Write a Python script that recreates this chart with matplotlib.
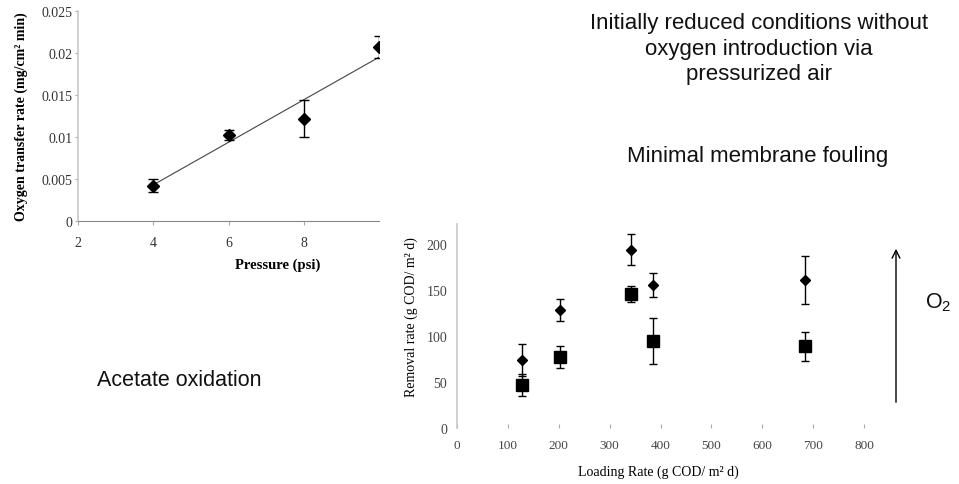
import matplotlib
matplotlib.use("Agg")
import matplotlib.pyplot as plt
import numpy as np

plt.rcParams["mathtext.fontset"] = "custom"
plt.rcParams["mathtext.rm"] = "Liberation Sans"
plt.rcParams["mathtext.it"] = "Liberation Sans:italic"

# Oxygen transfer vs pressure
pressure = [4, 6, 8, 10]
otr = [0.0042, 0.0102, 0.0122, 0.0207]
otr_err = [0.0008, 0.0006, 0.0022, 0.0013]
trend_x = [4, 10]
trend_y = [0.0043, 0.0195]
p_ticks = [2, 4, 6, 8]
otr_ticks = [0, 0.005, 0.01, 0.015, 0.02, 0.025]
otr_ticklabels = ["0", "0.005", "0.01", "0.015", "0.02", "0.025"]

# Removal rate vs loading rate
load_diam = [127, 202, 342, 386, 684]
rem_diam = [74, 128, 194, 156, 161]
err_diam = [17, 12, 17, 13, 26]
load_sq = [127, 202, 342, 386, 684]
rem_sq = [47, 77, 146, 95, 89]
err_sq = [12, 12, 9, 25, 16]
load_ticks = [0, 100, 200, 300, 400, 500, 600, 700, 800]
rem_ticks = [0, 50, 100, 150, 200]

W, H = 959, 485
fig = plt.figure(figsize=(W / 100, H / 100), dpi=100)

serif = ["Liberation Serif", "DejaVu Serif"]
sans = ["Liberation Sans", "DejaVu Sans"]


def box(x0, x1, ytop, ybot):
    return [x0 / W, 1 - ybot / H, (x1 - x0) / W, (ybot - ytop) / H]


# ---- left panel ----
ax1 = fig.add_axes(box(78, 379, 12, 222))
ax1.plot(trend_x, trend_y, color="#444444", lw=0.8)
ax1.errorbar(pressure, otr, yerr=otr_err, fmt="D", color="black", ms=6,
             ecolor="black", elinewidth=1.0, capsize=3.5, capthick=1.0)
ax1.set_xlim(2, 10)
ax1.set_ylim(0, 0.025)
ax1.set_xticks(p_ticks)
ax1.set_xticklabels([str(t) for t in p_ticks], fontfamily=serif, fontsize=10,
                    color="#333333")
ax1.set_yticks(otr_ticks)
ax1.set_yticklabels(otr_ticklabels, fontfamily=serif, fontsize=10,
                    color="#333333")
for s in ["top", "right"]:
    ax1.spines[s].set_visible(False)
ax1.spines["left"].set_color("#c8c8c8")
ax1.spines["left"].set_linewidth(1.2)
ax1.spines["bottom"].set_color("#888888")
ax1.tick_params(axis="x", length=3, color="#aaaaaa", pad=8)
ax1.tick_params(axis="y", length=2, color="#aaaaaa", pad=2)
ax1.set_ylabel("Oxygen transfer rate (mg/cm² min)", fontfamily=serif,
               fontsize=10, fontweight="bold")
ax1.yaxis.set_label_coords(-0.165, 0.5)
ax1.set_xlabel("Pressure (psi)", fontfamily=serif, fontsize=10.5,
               fontweight="bold")
ax1.xaxis.label.set_va("center")
ax1.xaxis.set_label_coords(0.665, -0.205)

# ---- right panel ----
ax2 = fig.add_axes(box(457, 864, 225, 429))
ax2.errorbar(load_diam, rem_diam, yerr=err_diam, fmt="D", color="black",
             ms=5, ecolor="black", elinewidth=1.0, capsize=3, capthick=1.0)
ax2.errorbar(load_sq, rem_sq, yerr=err_sq, fmt="s", color="black",
             ms=8.5, ecolor="black", elinewidth=1.0, capsize=3, capthick=1.0)
ax2.set_xlim(0, 800)
ax2.set_ylim(0, 222)
ax2.set_xticks(load_ticks)
ax2.set_xticklabels([str(t) for t in load_ticks], fontfamily=serif,
                    fontsize=9.5, color="#444444")
ax2.set_yticks(rem_ticks)
ax2.set_yticklabels([str(t) for t in rem_ticks], fontfamily=serif,
                    fontsize=10, color="#444444")
for s in ["top", "right", "bottom"]:
    ax2.spines[s].set_visible(False)
ax2.spines["left"].set_color("#c8c8c8")
ax2.spines["left"].set_linewidth(1.2)
ax2.tick_params(axis="x", direction="in", length=3, color="#aaaaaa", pad=8)
ax2.tick_params(axis="y", length=0, pad=7)
ax2.set_ylabel("Removal rate (g COD/ m² d)", fontfamily=serif, fontsize=10)
ax2.yaxis.set_label_coords(-0.095, 0.55)
ax2.set_xlabel("Loading Rate (g COD/ m² d)", fontfamily=serif, fontsize=10)
ax2.xaxis.label.set_va("center")
ax2.xaxis.set_label_coords(0.494, -0.21)

# ---- annotations ----
fig.text(759 / W, 1 - 49 / H,
         "Initially reduced conditions without\noxygen introduction via\npressurized air",
         ha="center", va="center", fontfamily=sans, fontsize=16,
         linespacing=1.3, color="#111111")
fig.text(758 / W, 1 - 157 / H, "Minimal membrane fouling", ha="center",
         va="center", fontfamily=sans, fontsize=16, color="#111111")
fig.text(97 / W, 1 - 381 / H, "Acetate oxidation", ha="left", va="center",
         fontfamily=sans, fontsize=15.5, color="#111111")
fig.text(925 / W, 1 - 303 / H, r"$\mathrm{O}_2$", ha="left", va="center",
         fontsize=15.5, color="#111111")
fig.patches.append(matplotlib.patches.FancyArrowPatch(
    (896 / W, 1 - 406 / H), (896 / W, 1 - 247 / H),
    transform=fig.transFigure, arrowstyle="->", mutation_scale=14,
    color="black", lw=1.0))

fig.savefig("out.png", dpi=100)
